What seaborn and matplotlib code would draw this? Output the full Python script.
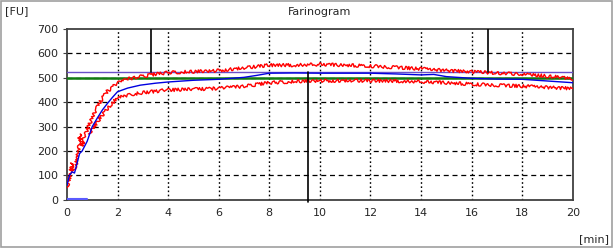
import numpy as np
import pandas as pd
import matplotlib
matplotlib.use("Agg")
import matplotlib.pyplot as plt
import seaborn as sns
from matplotlib.patches import Rectangle

# ---- data ----
t_upper = [0, 0.1, 0.2, 0.25, 0.35, 0.45, 0.5, 0.6, 0.7, 0.85, 1.0, 1.2, 1.4, 1.6, 1.8, 2.0,
           2.4, 2.9, 3.5, 4.0, 5, 6, 7, 8, 9, 10, 11, 12, 13, 14, 15, 16, 17, 18, 19, 20]
v_upper = [50, 90, 150, 120, 140, 200, 270, 220, 260, 300, 335, 378, 418, 445, 462, 478,
           495, 505, 515, 522, 525, 530, 540, 552, 552, 555, 552, 548, 543, 537, 530, 525, 520, 515, 507, 497]

t_lower = [0.85, 1.0, 1.2, 1.4, 1.6, 1.8, 2.0, 2.4, 2.9, 3.5, 4, 5, 6, 7, 8, 9, 10, 11, 12,
           13, 14, 15, 16, 17, 18, 19, 20]
v_lower = [270, 290, 320, 348, 375, 398, 417, 430, 438, 445, 450, 453, 457, 465, 480, 485, 488,
           488, 488, 487, 484, 480, 474, 470, 466, 461, 456]

t_mid = [0, 0.1, 0.2, 0.3, 0.4, 0.5, 0.6, 0.8, 1.0, 1.2, 1.4, 1.6, 1.8, 2.0, 2.4, 2.9, 3.5, 4,
         5, 6, 7, 7.5, 8, 9, 10, 11, 12, 13, 14, 14.5, 15, 16, 17, 18, 19, 20]
v_mid = [60, 100, 115, 110, 150, 190, 200, 240, 300, 335, 368, 395, 420, 443, 458, 470, 478, 483,
         490, 494, 502, 510, 519, 520, 519, 519, 519, 516, 512, 514, 505, 498, 495, 494, 487, 480]

t_base = [0, 0.8]
v_base = [4, 4]

consistency_line = 500
upper_limit = 525
markers_x = [3.32, 9.53, 16.64]

x_ticks = [0, 2, 4, 6, 8, 10, 12, 14, 16, 18, 20]
y_ticks = [0, 100, 200, 300, 400, 500, 600, 700]

# ---- figure ----
sns.set_style("white")
plt.rcParams['font.family'] = ['DejaVu Sans']
fig = plt.figure(figsize=(6.14, 2.48), dpi=100)
ax = fig.add_axes([0.109, 0.194, 0.824, 0.689])

df_up = pd.DataFrame({"t": t_upper, "v": v_upper})
df_lo = pd.DataFrame({"t": t_lower, "v": v_lower})
df_mid = pd.DataFrame({"t": t_mid, "v": v_mid})
df_base = pd.DataFrame({"t": t_base, "v": v_base})

ax.axhline(upper_limit, color="#6a4fc8", lw=1.0, zorder=3)
ax.axhline(consistency_line, color="#117a11", lw=1.8, zorder=3)

sns.lineplot(data=df_up, x="t", y="v", ax=ax, color="#ff0000", lw=1.0, zorder=4)
sns.lineplot(data=df_lo, x="t", y="v", ax=ax, color="#ff0000", lw=1.0, zorder=4)
sns.lineplot(data=df_mid, x="t", y="v", ax=ax, color="#0000e0", lw=1.0, zorder=5)
sns.lineplot(data=df_base, x="t", y="v", ax=ax, color="#5a5aff", lw=1.5, zorder=5)

# jagged rendering style for the raw red traces
for ln in ax.get_lines()[2:4]:
    ln.set_sketch_params(scale=1.6, length=3, randomness=6)

# marker lines
ax.plot([markers_x[0], markers_x[0]], [700, upper_limit], color="black", lw=1.2, zorder=6)
ax.plot([markers_x[1], markers_x[1]], [upper_limit, -8], color="black", lw=1.2, zorder=6, clip_on=False)
ax.plot([markers_x[2], markers_x[2]], [700, upper_limit], color="black", lw=1.2, zorder=6)

ax.set_xlim(0, 20)
ax.set_ylim(0, 700)
ax.set_xticks(x_ticks)
ax.set_yticks(y_ticks)
ax.set_xticklabels([str(v) for v in x_ticks])
ax.set_yticklabels([str(v) for v in y_ticks])
ax.set_xlabel("")
ax.set_ylabel("")

for y in y_ticks[1:-1]:
    ax.axhline(y, color="black", lw=0.9, ls=(0, (4, 3)), zorder=1)
for x in x_ticks[1:-1]:
    ax.axvline(x, color="black", lw=1.0, ls=(0, (1.2, 1.8)), zorder=1)

for s in ax.spines.values():
    s.set_color("#404040")
    s.set_linewidth(1.3)
ax.tick_params(axis="both", labelsize=8, length=3, width=0.8, color="#404040", pad=3,
               direction="out", left=True, bottom=False)

ax.set_title("Farinogram", fontsize=8, pad=10)
fig.text(0.008, 0.955, "[FU]", fontsize=8, ha="left", va="center")
fig.text(0.992, 0.035, "[min]", fontsize=8, ha="right", va="center")

fig.patches.append(Rectangle((0.002, 0.006), 0.994, 0.99, transform=fig.transFigure,
                             fill=False, edgecolor="#a0a0a0", lw=1.2))

fig.savefig("out.png", dpi=100)
